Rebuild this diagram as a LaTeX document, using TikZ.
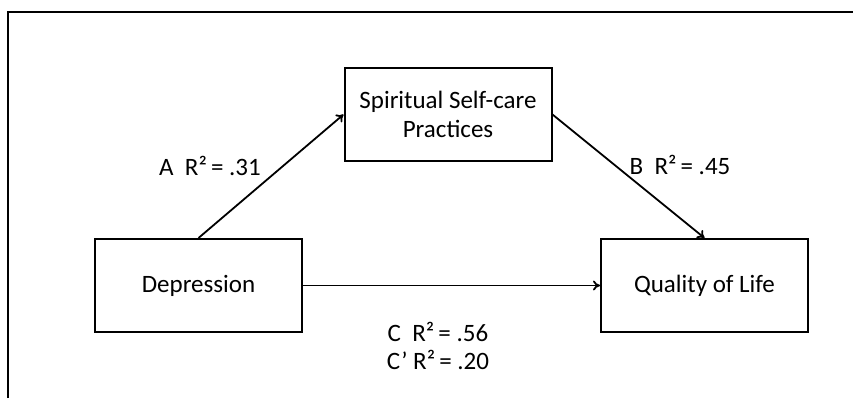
\documentclass[tikz,border=0pt]{standalone}
\usepackage{fontspec}
\setmainfont{Carlito}
\usetikzlibrary{arrows.meta}

\begin{document}
\begin{tikzpicture}[x=0.5pt, y=-0.5pt,
    every node/.style={font=\fontsize{12.5}{14.5}\selectfont},
    varbox/.style={draw, line width=1pt, minimum width=103.5pt, minimum height=46.5pt, inner sep=0pt, align=center},
    path/.style={line width=0.9pt, -{To[length=3.5pt, width=5pt]}}]

        \useasboundingbox (0,0) rectangle (853,398);

        % Frame
        \draw[line width=1pt] (8,398) -- (8,12) -- (853,12);

        % Variables
        \node[varbox] (dep) at (198.5,285.5) {Depression};
        \node[varbox] (ssc) at (448,114.5) {Spiritual Self-care\\Practices};
        \node[varbox] (qol) at (704.5,285.5) {Quality of Life};

        % Paths
        \draw[path] (dep.north) -- (ssc.west);
        \draw[path] (ssc.east) -- (qol.north);
        \draw[path] (dep.east) -- (qol.west);

        % Coefficients
        \node (pathA) at (210,166) {A\ \ R²\,= .31};
        \node (pathB) at (680,165) {B\ \ R²\,= .45};
        \node (pathC) at (438,332) {C\ \ R²\,= .56};
        \node (pathCp) at (438,360) {C’ R²\,= .20};

    \end{tikzpicture}
\end{document}
